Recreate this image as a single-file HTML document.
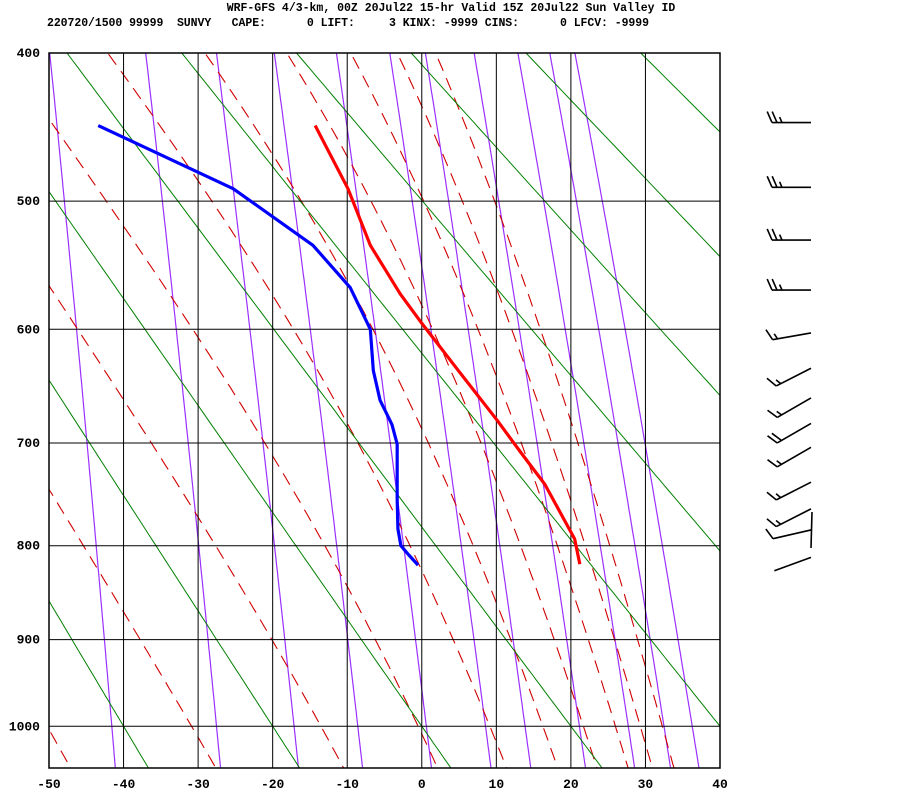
<!DOCTYPE html>
<html><head><meta charset="utf-8"><style>
html,body{margin:0;padding:0;background:#fff;}
body{width:900px;height:800px;overflow:hidden;position:relative;}
svg{position:absolute;left:0;top:0;}
text{font-family:"Liberation Mono",monospace;font-weight:bold;fill:#000;}
</style></head><body>
<svg id="chart" width="900" height="800" viewBox="0 0 900 800" xmlns="http://www.w3.org/2000/svg">
<text x="451" y="11" font-size="11.5" text-anchor="middle" xml:space="preserve">WRF-GFS 4/3-km, 00Z 20Jul22 15-hr Valid 15Z 20Jul22 Sun Valley ID</text>
<text x="47" y="26" font-size="11.5" xml:space="preserve" textLength="602">220720/1500 99999  SUNVY   CAPE:      0 LIFT:     3 KINX: -9999 CINS:      0 LFCV: -9999</text>
<defs><clipPath id="plotclip"><rect x="49" y="53" width="671" height="715"/></clipPath></defs>
<g id="bg" clip-path="url(#plotclip)"></g>
<g id="grid"></g>
<g id="prof" clip-path="url(#plotclip)"></g>
<g id="axes"></g>
<g id="barbs"></g>
</svg>
<script>
// ---- data ----
const tempTicks = [-50,-40,-30,-20,-10,0,10,20,30,40];
const presTicks = [400,500,600,700,800,900,1000];
const dryAdiabatsC = [-40,-20,0,20,40,60,80,100,120];
const moistThetaE = [223,243,263,282,301,320,339,358,376,395];
const mixRatios = [0.1,0.4,1,2,4,7,10,16,24,32,40];
const tempP = [447,491,533,571,595,635,679,708,739,793,819];
const tempT = [-14.3,-9.9,-6.9,-2.9,0.0,4.9,10.1,13.2,16.5,20.5,21.2];
const dewP = [447,491,533,566,600,635,661,683,701,730,754,783,800,809,820];
const dewT = [-43.4,-25.3,-14.6,-9.6,-6.9,-6.5,-5.6,-4.0,-3.3,-3.3,-3.3,-3.2,-2.8,-1.8,-0.5];
const windP = [445,490,529,568,603,633,659,682,704,737,763,784,812];
const windDir = [270,270,270,270,260,243,240,240,240,243,243,257,250];
const windSpd = [25,25,25,25,15,15,15,20,15,15,15,10,5];

// ---- scales ----
const X0=49,X1=720,Y0=53,Y1=768,TMIN=-50,TMAX=40;
function xs(t){return X0+(t-TMIN)*(X1-X0)/(TMAX-TMIN);}
const K=0.286, P0K=Math.pow(400,K);
function ys(p){return Y0+405*(Math.pow(p,K)-P0K);}
const NS="http://www.w3.org/2000/svg";
function mk(tag,attrs,parent){const e=document.createElementNS(NS,tag);for(const k in attrs)e.setAttribute(k,attrs[k]);parent.appendChild(e);return e;}
function es(T){return 6.112*Math.exp(17.67*T/(T+243.5));}
function ws(T,p){const e=es(T);return 0.622*e/(p-e);}
function thetaE(T,p){const Tk=T+273.15;return Tk*Math.pow(1000/p,K)*Math.exp(2.5e6*ws(T,p)/(1005*Tk));}
const plist=[];for(let p=380;p<=1060;p+=5)plist.push(p);

const bg=document.getElementById('bg');
mixRatios.forEach(w=>{
  const pts=plist.map(p=>{let lo=-90,hi=60;for(let i=0;i<40;i++){const m=(lo+hi)/2;if(ws(m,p)*1000<w)lo=m;else hi=m;}return xs(lo).toFixed(1)+','+ys(p).toFixed(1);});
  const e=mk('polyline',{points:pts.join(' '),fill:'none',stroke:'#9b30ff','stroke-width':1.2},bg);
  
  
});
moistThetaE.forEach(th=>{
  const pts=plist.map(p=>{let lo=-120,hi=60;for(let i=0;i<40;i++){const m=(lo+hi)/2;if(thetaE(m,p)<th)lo=m;else hi=m;}return xs(lo).toFixed(1)+','+ys(p).toFixed(1);});
  const e=mk('polyline',{points:pts.join(' '),fill:'none',stroke:'#d00000','stroke-width':1.1,'stroke-dasharray':'13,8'},bg);
  
  
});
dryAdiabatsC.forEach(tc=>{
  const th=tc+273.15;
  const pts=plist.map(p=>xs(th*Math.pow(p/1000,K)-273.15).toFixed(1)+','+ys(p).toFixed(1));
  const e=mk('polyline',{points:pts.join(' '),fill:'none',stroke:'#008000','stroke-width':1},bg);
  
  
});
const grid=document.getElementById('grid');
tempTicks.forEach(t=>{const e=mk('line',{x1:xs(t),x2:xs(t),y1:Y0,y2:Y1,stroke:'#000','stroke-width':1},grid);
  
  });
presTicks.forEach(p=>{const e=mk('line',{x1:X0,x2:X1,y1:ys(p),y2:ys(p),stroke:'#000','stroke-width':1},grid);
  
  });
const fr=mk('rect',{x:X0,y:Y0,width:X1-X0,height:Y1-Y0,fill:'none',stroke:'#000','stroke-width':1.5},grid);


const prof=document.getElementById('prof');
const tl=mk('polyline',{points:tempP.map((p,i)=>xs(tempT[i])+','+ys(p)).join(' '),fill:'none',stroke:'#ff0000','stroke-width':3.2,'stroke-linejoin':'round'},prof);


const dl=mk('polyline',{points:dewP.map((p,i)=>xs(dewT[i])+','+ys(p)).join(' '),fill:'none',stroke:'#0000ff','stroke-width':3.2,'stroke-linejoin':'round'},prof);


const axes=document.getElementById('axes');
tempTicks.forEach(t=>{const e=mk('text',{x:xs(t),y:788,'font-size':13,'text-anchor':'middle'},axes);e.textContent=t;
  
  });
presTicks.forEach(p=>{const e=mk('text',{x:40,y:ys(p)+4,'font-size':13,'text-anchor':'end'},axes);e.textContent=p;
  
  });
const barbs=document.getElementById('barbs');
windP.forEach((p,i)=>{
  const sx=811,sy=ys(p),L=39,d=windDir[i]*Math.PI/180;
  const ux=Math.sin(d),uy=-Math.cos(d);
  const g=mk('g',{},barbs);
  
  
  const tx=sx+ux*L,ty=sy+uy*L;
  mk('line',{x1:sx,y1:sy,x2:tx,y2:ty,stroke:'#000','stroke-width':1.6},g);
  let perp={x:-uy,y:ux}; if(perp.y>0){perp.x=-perp.x;perp.y=-perp.y;}
  let spd=windSpd[i],k=0;
  while(spd>=10){const bx=tx-ux*k*5,by=ty-uy*k*5;
    mk('line',{x1:bx,y1:by,x2:bx+(perp.x*0.92+ux*0.4)*12,y2:by+(perp.y*0.92+uy*0.4)*12,stroke:'#000','stroke-width':1.6},g);spd-=10;k++;}
  if(spd>=5&&k>0){const bx=tx-ux*k*5,by=ty-uy*k*5;
    mk('line',{x1:bx,y1:by,x2:bx+(perp.x*0.92+ux*0.4)*6,y2:by+(perp.y*0.92+uy*0.4)*6,stroke:'#000','stroke-width':1.6},g);}
});
const vb=mk('line',{x1:812,y1:512,x2:811,y2:548,stroke:'#000','stroke-width':1.6},barbs);


</script>
</body></html>
